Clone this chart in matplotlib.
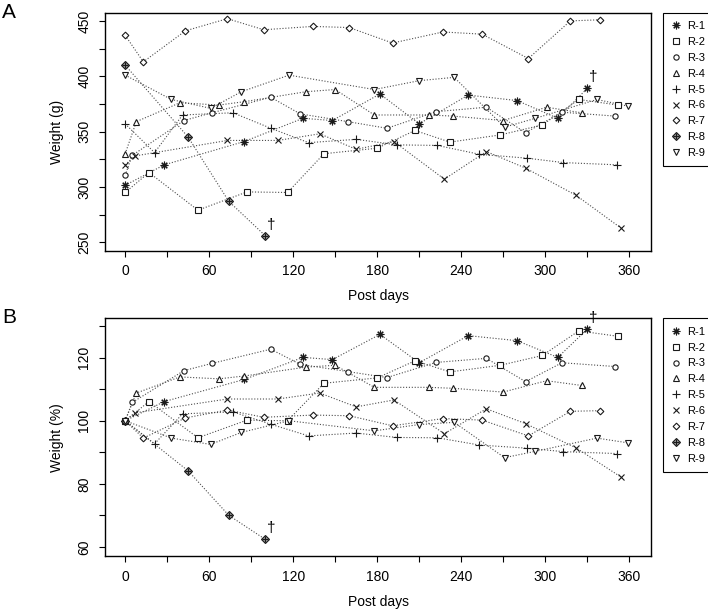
import matplotlib.pyplot as plt
from matplotlib.lines import Line2D
from matplotlib.legend_handler import HandlerTuple

plt.rcParams['font.family'] = ['Liberation Sans', 'DejaVu Sans']

rats = ['R-1', 'R-2', 'R-3', 'R-4', 'R-5', 'R-6', 'R-7', 'R-8', 'R-9']

days = [
    [0, 28, 85, 127, 148, 182, 210, 245, 280, 309, 330],
    [0, 17, 52, 87, 116, 142, 180, 207, 232, 268, 298, 324, 352],
    [0, 5, 42, 62, 104, 125, 159, 187, 222, 258, 286, 312, 350],
    [0, 8, 39, 67, 85, 129, 150, 178, 217, 234, 270, 301, 326],
    [0, 21, 41, 77, 104, 131, 165, 194, 223, 253, 287, 313, 351],
    [0, 7, 73, 109, 139, 165, 192, 228, 258, 286, 322, 354],
    [0, 13, 43, 73, 99, 134, 160, 191, 227, 255, 288, 318, 339],
    [0, 45, 74, 100],
    [0, 33, 61, 83, 117, 178, 210, 235, 271, 293, 337, 359],
]

# body weight (g)
weight_g = [
    [301.5, 320, 341, 362, 360, 384, 357, 383, 378, 362, 389],
    [295, 313, 279, 295.5, 295, 330, 335, 351, 340.5, 347, 356, 379, 374],
    [310.5, 328.5, 360, 367, 381, 366, 359, 353, 368, 372, 349, 367.5, 364],
    [330, 359, 376, 374, 377, 386, 388, 365, 365, 364, 360, 372, 367],
    [357, 331, 365, 367, 353, 340, 343, 338, 337.5, 329.5, 326, 322, 320],
    [320, 328, 342, 342, 348, 334, 341, 307, 332, 317, 292.5, 263],
    [437, 413, 441, 452, 442, 445, 444, 430, 440, 438, 416, 450, 451],
    [410, 345, 287, 256],
    [401, 379, 371, 386, 401, 388, 396, 399, 354, 362, 379, 373],
]

# body weight (% of day 0)
weight_pct = [
    [100, 106.1, 113.1, 120.1, 119.4, 127.4, 118.4, 127.0, 125.4, 120.1, 129.0],
    [100, 106.1, 94.6, 100.2, 100, 111.9, 113.6, 119.0, 115.5, 117.6, 120.7, 128.5, 126.8],
    [100, 105.8, 115.9, 118.2, 122.7, 117.9, 115.6, 113.7, 118.5, 119.8, 112.4, 118.4, 117.2],
    [100, 108.8, 113.9, 113.3, 114.2, 117.0, 117.6, 110.6, 110.6, 110.3, 109.1, 112.7, 111.2],
    [100, 92.7, 102.2, 102.8, 98.9, 95.2, 96.1, 94.7, 94.6, 92.3, 91.3, 90.2, 89.6],
    [100, 102.5, 106.9, 106.9, 108.8, 104.4, 106.6, 95.9, 103.8, 99.1, 91.4, 82.2],
    [100, 94.5, 100.9, 103.4, 101.1, 101.8, 101.6, 98.4, 100.7, 100.2, 95.2, 103.0, 103.2],
    [100, 84.1, 70.0, 62.4],
    [100, 94.5, 92.5, 96.3, 100, 96.8, 98.8, 99.5, 88.3, 90.3, 94.5, 93.0],
]

dead = [0, 7]  # R-1 and R-8 marked with a dagger

mk_col = '#1a1a1a'
ln_col = '#4d4d4d'

# marker style for each rat (R pch 8, 0, 1, 2, 3, 4, 5, 9, 6)
styles = [
    [dict(marker=(8, 2, 0), ms=5.5)],
    [dict(marker='s', ms=3.8)],
    [dict(marker='o', ms=3.8)],
    [dict(marker='^', ms=4.5)],
    [dict(marker='+', ms=5.5)],
    [dict(marker='x', ms=3.8)],
    [dict(marker='D', ms=3.4)],
    [dict(marker='D', ms=3.6, mfc='#9a9a9a'), dict(marker='+', ms=4.8)],
    [dict(marker='v', ms=4.5)],
]


def kw(s):
    d = dict(ls='none', mfc='white', mec=mk_col, mew=0.8)
    d.update(s)
    return d


def make_handles():
    return [tuple(Line2D([], [], **kw(s)) for s in st) for st in styles]


def panel(ax, vals, ylabel, ylim, yticks, ylab_every):
    for i in range(len(rats)):
        ax.plot(days[i], vals[i], color=ln_col, lw=0.8, ls=(0, (1, 1.6)), zorder=1)
        for s in styles[i]:
            ax.plot(days[i], vals[i], zorder=3, **kw(s))
    for i in dead:
        ax.annotate('†', (days[i][-1], vals[i][-1]), xytext=(4, 8),
                    textcoords='offset points', ha='center', va='center', fontsize=11)

    ax.set_xlim(-14.4, 375.6)
    ax.set_ylim(*ylim)
    xt = list(range(0, 361, 30))
    ax.set_xticks(xt)
    ax.set_xticklabels([str(v) if v % 60 == 0 else '' for v in xt])
    ax.set_yticks(yticks)
    ax.set_yticklabels([str(v) if v % ylab_every == 0 else '' for v in yticks])
    ax.tick_params(direction='out', length=4.3, width=0.8, labelsize=10, pad=5.5)
    ax.tick_params(axis='y', labelrotation=90)
    for lbl in ax.get_yticklabels():
        lbl.set_va('center')
    for sp in ax.spines.values():
        sp.set_linewidth(1.0)
    ax.set_xlabel('Post days', fontsize=10, labelpad=8)
    ax.set_ylabel(ylabel, fontsize=10, labelpad=10)


fig = plt.figure(figsize=(7.08, 6.11), dpi=100)
W, H = 708, 611
axA = fig.add_axes([105 / W, 1 - 250.7 / H, 546 / W, 238 / H])
axB = fig.add_axes([105 / W, 1 - 556 / H, 546 / W, 237.7 / H])

panel(axA, weight_g, 'Weight (g)', (242.4, 457.4), list(range(250, 451, 25)), 50)
panel(axB, weight_pct, 'Weight (%)', (57.1, 132.5), list(range(60, 131, 10)), 20)

for ax, top in [(axA, 12.7), (axB, 318.3)]:
    leg = ax.legend(make_handles(), rats, loc='upper left',
                    bbox_to_anchor=(663 / W, 1 - top / H), bbox_transform=fig.transFigure,
                    handler_map={tuple: HandlerTuple(ndivide=1)},
                    frameon=True, fancybox=False, edgecolor='black', framealpha=1,
                    fontsize=8, handlelength=0.9, handletextpad=0.5,
                    labelspacing=0.53, borderpad=0.75, borderaxespad=0)
    leg.get_frame().set_linewidth(0.8)

fig.text(2 / W, 1 - 3 / H, 'A', fontsize=15, va='top', ha='left')
fig.text(2 / W, 1 - 308 / H, 'B', fontsize=15, va='top', ha='left')

fig.savefig('out.png', dpi=100)
